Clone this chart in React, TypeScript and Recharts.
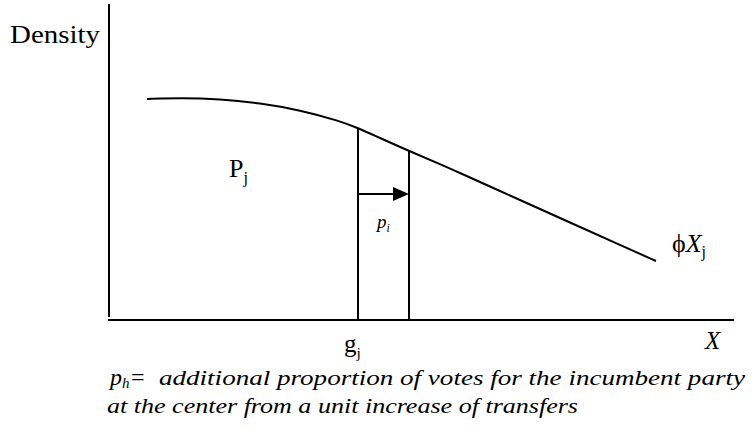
import React from 'react';
import { ComposedChart, Line, XAxis, YAxis, ReferenceLine, ReferenceDot } from 'recharts';

// density curve (x along X, height = density)
const curveX = [38, 71, 111, 151, 191, 231, 249, 271, 300, 331, 351, 391, 431, 471, 511, 547];
const curveDensity = [221, 222, 221, 217, 210, 199, 192, 182, 169, 156, 147, 129, 111, 93, 75, 59];

// g_j and the shifted cut-off
const cutX = [249, 300];
const cutDensity = [192, 169];
const arrowLevel = 126;

const X_MAX = 625;
const Y_MAX = 316;

const captionLines = [
  'additional proportion of votes for the incumbent party',
  'at the center from a unit increase of transfers',
];

const data = curveX.map((x, i) => ({ x, density: curveDensity[i] }));

const SERIF = 'Liberation Serif, Tinos, DejaVu Serif, Times New Roman, serif';

const ArrowShape = (props: any) => {
  const { x1, y1, x2 } = props;
  const head = 16;
  return (
    <g>
      <line x1={x1} y1={y1} x2={x2 - head} y2={y1} stroke="#000" strokeWidth={2} />
      <polygon points={`${x2},${y1} ${x2 - head},${y1 - 7} ${x2 - head},${y1 + 7}`} fill="#000" />
    </g>
  );
};

// label drawn at a data point, baseline-left anchored
const tag = (main: string, sub: string, size: number, italic = false, subItalic = false, len?: number) =>
  (p: any) => {
    const { x, y } = p.viewBox;
    return (
      <text
        x={x}
        y={y}
        style={{ fontFamily: SERIF }}
        fontSize={size}
        fill="#000"
        fontStyle={italic ? 'italic' : 'normal'}
        textLength={len}
        lengthAdjust={len ? 'spacingAndGlyphs' : undefined}
      >
        {main}
        {sub && (
          <tspan fontSize={size * 0.62} dy={size * 0.22} fontStyle={subItalic ? 'italic' : 'normal'}>
            {sub}
          </tspan>
        )}
      </text>
    );
  };

const PhiLabel = (p: any) => {
  const { x, y } = p.viewBox;
  return (
    <text x={x} y={y} style={{ fontFamily: SERIF }} fontSize={26} fill="#000">
      ϕ<tspan fontStyle="italic">X</tspan>
      <tspan fontSize={16} dy={5}>j</tspan>
    </text>
  );
};

const dotStyle = { r: 0, fill: 'none', stroke: 'none', ifOverflow: 'visible' as const };

export default function App() {
  return (
    <div style={{ position: 'absolute', left: 0, top: 0, width: 754, height: 430, background: '#fff', fontFamily: SERIF }}>
      <ComposedChart
        width={754}
        height={430}
        data={data}
        margin={{ top: 4, right: 20, bottom: 110, left: 109 }}
      >
        <XAxis type="number" dataKey="x" domain={[0, X_MAX]} hide />
        <YAxis type="number" domain={[0, Y_MAX]} hide />

        {/* axes */}
        <ReferenceLine segment={[{ x: 0, y: 3 }, { x: 0, y: Y_MAX }]} stroke="#000" strokeWidth={2} ifOverflow="visible" />
        <ReferenceLine segment={[{ x: -1, y: 0 }, { x: X_MAX, y: 0 }]} stroke="#000" strokeWidth={2} ifOverflow="visible" />

        {/* cut-off lines */}
        {cutX.map((cx, i) => (
          <ReferenceLine
            key={i}
            segment={[{ x: cx, y: 0 }, { x: cx, y: cutDensity[i] }]}
            stroke="#000"
            strokeWidth={2}
            ifOverflow="visible"
          />
        ))}
        <ReferenceLine
          segment={[{ x: cutX[0], y: arrowLevel }, { x: cutX[1], y: arrowLevel }]}
          shape={ArrowShape}
          ifOverflow="visible"
        />

        <Line
          type="basis"
          dataKey="density"
          stroke="#000"
          strokeWidth={2}
          dot={false}
          isAnimationActive={false}
        />

        <ReferenceDot x={-99} y={277} {...dotStyle} label={{ content: tag('Density', '', 26, false, false, 90) }} />
        <ReferenceDot x={120} y={143} {...dotStyle} label={{ content: tag('P', 'j', 26) }} />
        <ReferenceDot x={268} y={92} {...dotStyle} label={{ content: tag('p', 'i', 19, true, true) }} />
        <ReferenceDot x={563} y={68} {...dotStyle} label={{ content: PhiLabel }} />
        <ReferenceDot x={235} y={-32} {...dotStyle} label={{ content: tag('g', 'j', 25) }} />
        <ReferenceDot x={596} y={-29} {...dotStyle} label={{ content: tag('X', '', 25, true) }} />
      </ComposedChart>

      {/* caption */}
      <svg width={754} height={430} style={{ position: 'absolute', left: 0, top: 0, pointerEvents: 'none' }}>
        <g style={{ fontFamily: SERIF }} fontStyle="italic" fill="#000">
          <text x={110} y={385} fontSize={24}>
            p<tspan fontSize={15} dy={3}>h</tspan>
            <tspan dy={-3}>=</tspan>
          </text>
          <text x={159} y={385} fontSize={22} textLength={586} lengthAdjust="spacingAndGlyphs">
            {captionLines[0]}
          </text>
          <text x={107} y={413} fontSize={22} textLength={471} lengthAdjust="spacingAndGlyphs">
            {captionLines[1]}
          </text>
        </g>
      </svg>
    </div>
  );
}
